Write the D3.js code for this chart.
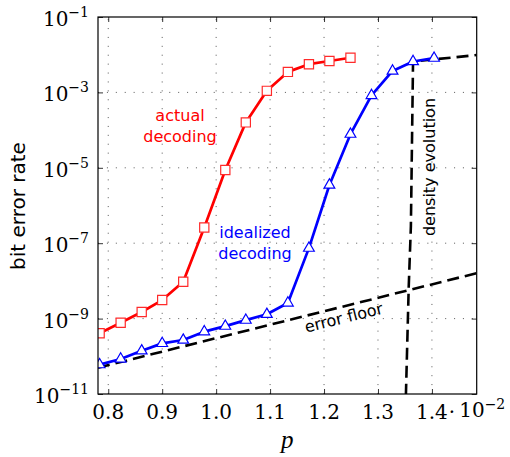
<!DOCTYPE html>
<html>
<head>
<meta charset="utf-8">
<script src="https://cdn.jsdelivr.net/npm/d3@7"></script>
<style>
  html, body { margin: 0; padding: 0; background: #fff; }
  svg { display: block; }
  .sans { font-family: "DejaVu Sans", sans-serif; }
  .serif { font-family: "DejaVu Serif", serif; }
</style>
</head>
<body>
<svg id="chart" width="510" height="457"></svg>
<script>
// p values (in units of 10^-2) at which the bit error rate was evaluated
const pValues = [0.784, 0.823, 0.862, 0.900, 0.939, 0.978, 1.017, 1.055, 1.094,
                 1.133, 1.172, 1.210, 1.249, 1.288, 1.327, 1.365, 1.404];

// bit error rate with the actual decoder (first 13 p values)
const actualBER = [4.1e-10, 7.8e-10, 1.5e-9, 3.1e-9, 9.5e-9, 2.6e-7, 8.7e-6,
                   1.6e-4, 1.1e-3, 3.5e-3, 5.6e-3, 6.8e-3, 8.3e-3];

// bit error rate with the idealized decoder (all p values)
const idealBER = [6.0e-11, 8.5e-11, 1.4e-10, 2.2e-10, 2.7e-10, 4.5e-10, 6.3e-10,
                  9.1e-10, 1.3e-9, 2.6e-9, 7.4e-8, 3.5e-6, 7.8e-5, 8.3e-4,
                  3.7e-3, 6.6e-3, 8.1e-3];

// error floor estimate (straight on the semilog axes)
const floorP = [0.781, 1.483];
const floorBER = [5.0e-11, 1.6e-8];

// density evolution threshold curve
const deP = [1.350, 1.357, 1.361, 1.365, 1.483];
const deBER = [1e-12, 7e-9, 2.8e-7, 6.6e-3, 9.8e-3];

// axis ticks
const xTicks = [0.8, 0.9, 1.0, 1.1, 1.2, 1.3, 1.4];
const xTickLabels = ["0.8", "0.9", "1.0", "1.1", "1.2", "1.3", "1.4"];
const xScaleExponent = "\u22122";
const yTicks = [1e-1, 1e-3, 1e-5, 1e-7, 1e-9, 1e-11];
const yTickExponents = ["\u22121", "\u22123", "\u22125", "\u22127", "\u22129", "\u221211"];

const svg = d3.select("#chart");
const L = 98, R = 476.7, T = 17, B = 394;

const x = d3.scaleLinear().domain([0.781, 1.483]).range([L, R]);
const y = d3.scaleLog().domain([1e-11, 1e-1]).range([B, T]);

svg.append("defs").append("clipPath").attr("id", "plotclip")
  .append("rect").attr("x", L).attr("y", T).attr("width", R - L).attr("height", B - T);

// dotted grid
const grid = svg.append("g").attr("stroke", "#666").attr("stroke-width", 1)
  .attr("stroke-dasharray", "1.1,7.8");
grid.selectAll("line.gx").data(xTicks).join("line")
  .attr("x1", d => x(d)).attr("x2", d => x(d)).attr("y1", B).attr("y2", T);
grid.selectAll("line.gy").data(yTicks.slice(1, -1)).join("line")
  .attr("y1", d => y(d)).attr("y2", d => y(d)).attr("x1", L).attr("x2", R);

// axes: ticks pointing inwards
const axB = svg.append("g").attr("transform", `translate(0,${B})`)
  .call(d3.axisBottom(x).tickValues(xTicks).tickSize(-5).tickFormat(""));
const axT = svg.append("g").attr("transform", `translate(0,${T})`)
  .call(d3.axisTop(x).tickValues(xTicks).tickSize(-5).tickFormat(""));
const axL = svg.append("g").attr("transform", `translate(${L},0)`)
  .call(d3.axisLeft(y).tickValues(yTicks).tickSize(-5).tickFormat(""));
const axR = svg.append("g").attr("transform", `translate(${R},0)`)
  .call(d3.axisRight(y).tickValues(yTicks).tickSize(-5).tickFormat(""));
[axB, axT, axL, axR].forEach(g => {
  g.select(".domain").remove();
  g.selectAll("line").attr("stroke", "#000").attr("stroke-width", 0.8);
});

// x tick labels; the last one carries the common factor ·10^-2
const last = xTicks.length - 1;
const xl = svg.append("g").attr("class", "serif").attr("font-size", 20);
xl.selectAll("text").data(xTicks.slice(0, last)).join("text")
  .attr("x", d => x(d)).attr("y", B + 25).attr("text-anchor", "middle")
  .text((d, i) => xTickLabels[i]);
const lastLabel = xl.append("text").attr("y", B + 25).attr("text-anchor", "start");
const numSpan = lastLabel.append("tspan").text(xTickLabels[last]);
lastLabel.append("tspan").attr("dx", 1).text("\u00b7");
lastLabel.append("tspan").attr("dx", 4).attr("dy", -2).text("10");
lastLabel.append("tspan").attr("font-size", 14).attr("dy", -8).text(xScaleExponent);
const numWidth = numSpan.node().getComputedTextLength();
lastLabel.attr("x", x(xTicks[last]) - numWidth / 2);

// y tick labels  10^-k
const yl = svg.append("g").attr("class", "serif")
  .selectAll("text").data(yTicks).join("text")
  .attr("x", L - 9).attr("y", d => y(d) + 9).attr("text-anchor", "end");
yl.append("tspan").attr("font-size", 20).text("10");
yl.append("tspan").attr("font-size", 14).attr("dy", -9).text((d, i) => yTickExponents[i]);

// axis titles
svg.append("text").attr("font-family", "'Liberation Serif', serif").attr("font-size", 25)
  .attr("font-style", "italic")
  .attr("x", (L + R) / 2).attr("y", 448).attr("text-anchor", "middle").text("p");
svg.append("text").attr("class", "sans").attr("font-size", 20)
  .attr("transform", `translate(25,206) rotate(-90)`)
  .attr("text-anchor", "middle").text("bit error rate");

// plot content
const plot = svg.append("g").attr("clip-path", "url(#plotclip)");
const line = d3.line().x(d => x(d[0])).y(d => y(d[1]));

const floorData = floorP.map((p, i) => [p, floorBER[i]]);
const deData = deP.map((p, i) => [p, deBER[i]]);
const actualData = actualBER.map((v, i) => [pValues[i], v]);
const idealData = idealBER.map((v, i) => [pValues[i], v]);

plot.append("path").datum(floorData).attr("d", line)
  .attr("fill", "none").attr("stroke", "#000").attr("stroke-width", 2.6)
  .attr("stroke-dasharray", "12,6");
plot.append("path").datum(deData).attr("d", line)
  .attr("fill", "none").attr("stroke", "#000").attr("stroke-width", 2.6)
  .attr("stroke-dasharray", "12,6");

plot.append("path").datum(actualData).attr("d", line)
  .attr("fill", "none").attr("stroke", "#ff0000").attr("stroke-width", 2.7)
  .attr("stroke-linejoin", "round");
plot.append("path").datum(idealData).attr("d", line)
  .attr("fill", "none").attr("stroke", "#0000ff").attr("stroke-width", 2.7)
  .attr("stroke-linejoin", "round");

const sq = d3.symbol().type(d3.symbolSquare).size(85);
plot.selectAll("path.sq").data(actualData).join("path")
  .attr("d", sq).attr("transform", d => `translate(${x(d[0])},${y(d[1])})`)
  .attr("fill", "#fff").attr("stroke", "#ff2a2a").attr("stroke-width", 1.2);

const tri = d3.symbol().type(d3.symbolTriangle).size(50);
plot.selectAll("path.tri").data(idealData).join("path")
  .attr("d", tri).attr("transform", d => `translate(${x(d[0])},${y(d[1])})`)
  .attr("fill", "#fff").attr("stroke", "#0000ff").attr("stroke-width", 1.2);

// frame
svg.append("rect").attr("x", L).attr("y", T).attr("width", R - L).attr("height", B - T)
  .attr("fill", "none").attr("stroke", "#000").attr("stroke-width", 1.2);

// annotations
const ann = svg.append("g").attr("class", "sans").attr("font-size", 16);
const a1 = ann.append("text").attr("fill", "#ff0000").attr("text-anchor", "middle");
a1.append("tspan").attr("x", 180).attr("y", 121).text("actual");
a1.append("tspan").attr("x", 180).attr("y", 142).text("decoding");
const a2 = ann.append("text").attr("fill", "#0000ff").attr("text-anchor", "middle");
a2.append("tspan").attr("x", 255).attr("y", 238).text("idealized");
a2.append("tspan").attr("x", 255).attr("y", 259).text("decoding");
ann.append("text").attr("fill", "#000").attr("text-anchor", "middle")
  .attr("transform", "translate(345,323) rotate(-14)").text("error floor");
ann.append("text").attr("fill", "#000").attr("text-anchor", "middle")
  .attr("transform", "translate(435,167) rotate(-90)").text("density evolution");
</script>
</body>
</html>
